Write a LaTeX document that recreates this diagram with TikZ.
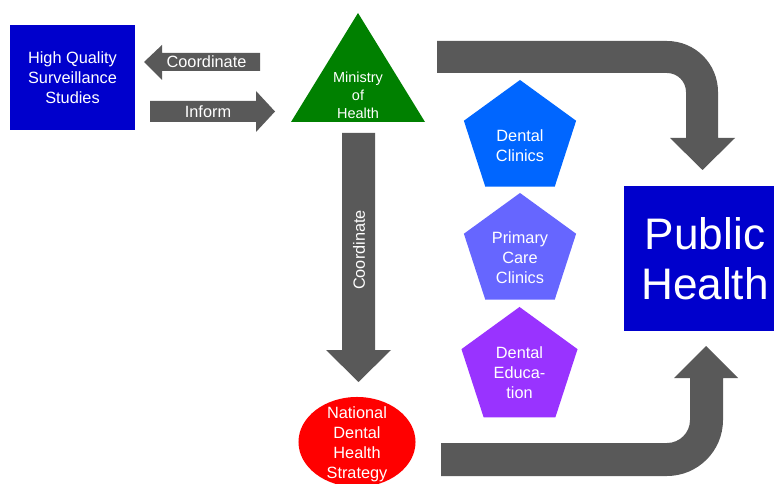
\documentclass[tikz,border=0pt]{standalone}
\usepackage{fontspec}
\setmainfont{Liberation Sans}
\usetikzlibrary{shapes.geometric}

\definecolor{arrowgray}{HTML}{595959}
\definecolor{boxblue}{HTML}{0000CC}
\definecolor{mohgreen}{HTML}{008000}
\definecolor{clinicblue}{HTML}{0066FF}
\definecolor{primaryblue}{HTML}{6666FF}
\definecolor{edupurple}{HTML}{9933FF}
\definecolor{strategyred}{HTML}{FF0000}

\begin{document}
\begin{tikzpicture}[x=0.025cm,y=-0.025cm,
    txt/.style={text=white,align=center,inner sep=0pt,font=\fontsize{11.6}{14.2}\selectfont},
    blockarrow/.style={fill=arrowgray},
    pentagon/.style={regular polygon,regular polygon sides=5,inner sep=0pt,minimum size=2.95cm}]
    \useasboundingbox (0,0) rectangle (774,484);

    % boxes
    \node[fill=boxblue,minimum width=3.125cm,minimum height=2.625cm] (hq) at (72.5,77.5) {};
    \node[txt] (hqtext) at (72.5,78) {High Quality\\Surveillance\\Studies};
    \node[fill=boxblue,minimum width=4.05cm,minimum height=3.625cm] (ph) at (705,258.5) {};
    \node[txt,font=\fontsize{31.4}{35.6}\selectfont] (phtext) at (705,258.5) {Public\\Health};

    % ministry
    \fill[mohgreen] (358,13) -- (425,122) -- (291,122) -- cycle;
    \node[txt,font=\fontsize{10.3}{12.8}\selectfont] (moh) at (358,95) {Ministry\\of\\Health};

    % pentagons
    \node[pentagon,fill=clinicblue] (clinics) at (520,139) {};
    \node[txt] (clinicstext) at (520,145.5) {Dental\\Clinics};
    \node[pentagon,fill=primaryblue] (primary) at (520,252) {};
    \node[txt] (primarytext) at (520,258) {Primary\\Care\\Clinics};
    \node[pentagon,fill=edupurple,minimum size=3.05cm] (edu) at (519.5,368) {};
    \node[txt] (edutext) at (519.5,373) {Dental\\Educa-\\tion};

    % strategy
    \node[ellipse,fill=strategyred,minimum width=2.925cm,minimum height=2.25cm] (nds) at (357,442) {};
    \node[txt] (ndstext) at (357,444.5) {National\\Dental\\Health\\Strategy};

    % arrows
    \fill[blockarrow] (144,62) -- (162,45) -- (162,53) -- (260,53) -- (260,71) -- (162,71) -- (162,80) -- cycle;
    \node[txt] (coord) at (206.5,62) {Coordinate};
    \fill[blockarrow] (150,101) -- (256,101) -- (256,91) -- (275,111.5) -- (256,132) -- (256,122) -- (150,122) -- cycle;
    \node[txt] (inform) at (208,111.5) {Inform};
    \fill[blockarrow] (342,133) -- (375,133) -- (375,350) -- (391,350) -- (358.5,382) -- (326,350) -- (342,350) -- cycle;
    \node[txt,rotate=90] (coordv) at (359,250) {Coordinate};
    \fill[blockarrow] (437,41) -- (667,41) .. controls (695.2,41) and (718,63.8) .. (718,92) -- (718,138) -- (735,138)
        -- (702.5,170) -- (670,138) -- (686,138) -- (686,92) .. controls (686,81.5) and (677.5,73) .. (667,73) -- (437,73) -- cycle;
    \fill[blockarrow] (441,443) -- (667,443) .. controls (679.7,443) and (690,432.7) .. (690,420) -- (690,378) -- (674,378)
        -- (706,346) -- (738,378) -- (723,378) -- (723,420) .. controls (723,450.9) and (697.9,476) .. (667,476) -- (441,476) -- cycle;
\end{tikzpicture}
\end{document}
